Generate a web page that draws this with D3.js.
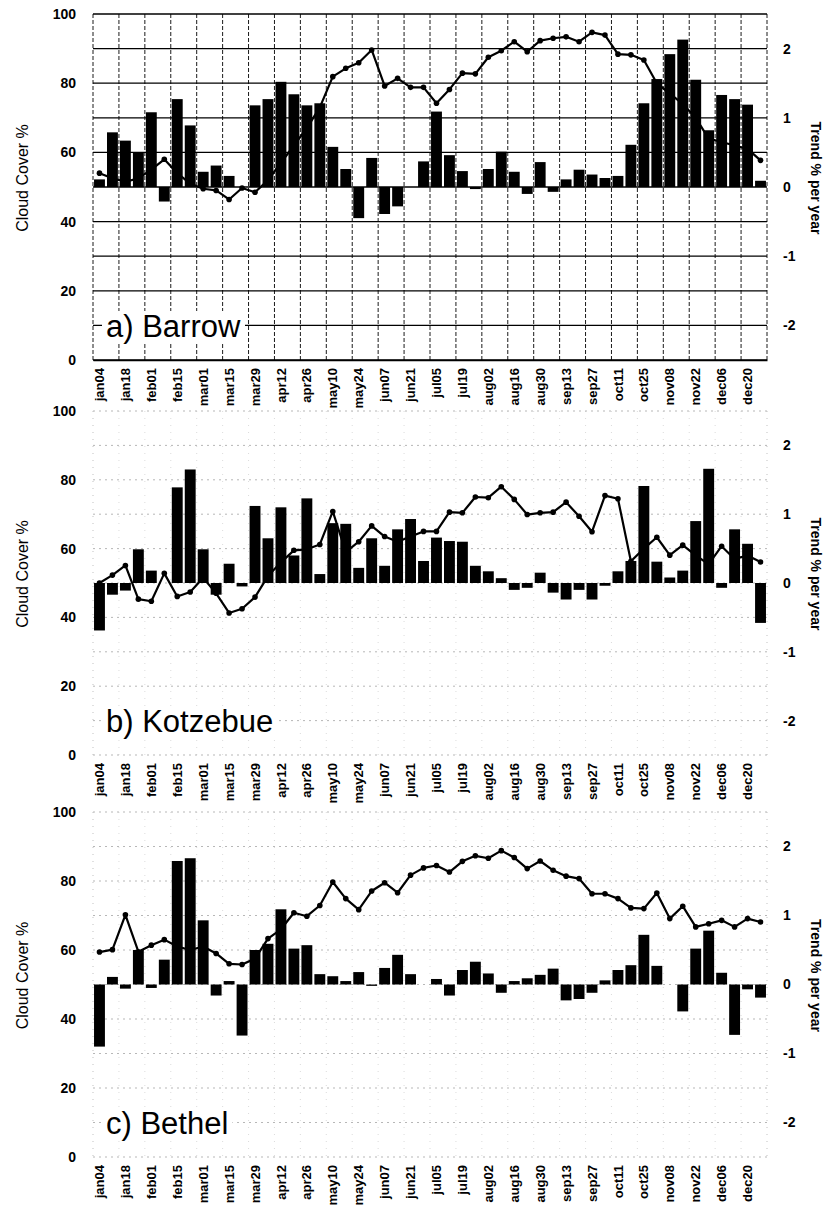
<!DOCTYPE html>
<html>
<head>
<meta charset="utf-8">
<script src="https://cdn.jsdelivr.net/npm/d3@7"></script>
<style>
  html, body { margin: 0; padding: 0; background: #fff; }
  svg { display: block; font-family: Arial, "Liberation Sans", sans-serif; }
</style>
</head>
<body>
<svg id="chart" width="828" height="1210"></svg>
<script>
// Weekly categories (start date of each week)
const weeks = ["jan04","jan11","jan18","jan25","feb01","feb08","feb15","feb22",
  "mar01","mar08","mar15","mar22","mar29","apr05","apr12","apr19","apr26",
  "may03","may10","may17","may24","may31","jun07","jun14","jun21","jun28",
  "jul05","jul12","jul19","jul26","aug02","aug09","aug16","aug23","aug30",
  "sep06","sep13","sep20","sep27","oct04","oct11","oct18","oct25",
  "nov01","nov08","nov15","nov22","nov29","dec06","dec13","dec20","dec27"];

const leftTicks = [0, 20, 40, 60, 80, 100];
const rightTicks = [-2, -1, 0, 1, 2];

// Barrow: mean cloud cover (%) and trend (% per year)
const barrowCloud = [54.0,52.5,51.5,52.5,55.0,58.0,54.0,51.0,49.5,49.0,46.4,49.7,48.5,
  52.0,57.0,62.0,67.0,73.0,81.9,84.3,85.9,89.6,79.2,81.4,78.8,78.8,74.2,78.2,82.9,
  82.7,87.5,89.4,92.0,89.1,92.3,93.0,93.4,92.0,94.7,93.9,88.4,88.2,86.7,80.0,77.0,
  74.0,70.0,64.0,63.0,62.0,61.0,57.7];
const barrowTrend = [0.11,0.79,0.67,0.50,1.08,-0.21,1.27,0.89,0.22,0.31,0.16,0.00,1.18,
  1.27,1.52,1.34,1.18,1.21,0.58,0.26,-0.45,0.42,-0.39,-0.28,0.00,0.37,1.09,0.46,0.23,
  -0.03,0.26,0.51,0.22,-0.10,0.36,-0.07,0.11,0.25,0.18,0.13,0.16,0.61,1.21,1.56,1.92,
  2.13,1.55,0.82,1.33,1.27,1.19,0.09];

// Kotzebue
const kotzCloud = [50.0,52.3,55.1,45.3,44.7,52.8,46.1,47.4,51.5,47.0,41.3,42.5,45.9,
  52.0,56.0,59.5,59.8,61.2,70.8,59.0,62.0,66.6,63.5,62.0,63.5,65.0,65.0,70.6,70.4,
  75.0,74.8,78.0,74.3,69.9,70.4,70.6,73.5,69.4,64.9,75.4,74.5,56.3,60.0,63.3,58.1,
  61.0,58.0,55.5,60.7,57.0,58.0,56.1];
const kotzTrend = [-0.69,-0.17,-0.11,0.49,0.18,0.00,1.39,1.65,0.49,-0.17,0.28,-0.05,1.12,
  0.65,1.10,0.40,1.23,0.13,0.87,0.86,0.22,0.65,0.25,0.78,0.93,0.32,0.66,0.61,0.60,
  0.25,0.17,0.07,-0.10,-0.07,0.15,-0.14,-0.24,-0.10,-0.24,-0.04,0.17,0.32,1.41,0.31,
  0.08,0.18,0.90,1.66,-0.07,0.78,0.57,-0.58];

// Bethel
const bethelCloud = [59.4,60.1,70.2,59.5,61.4,63.0,61.0,60.0,61.0,59.0,56.0,55.8,57.5,
  63.3,66.0,70.8,69.8,72.9,79.7,74.9,71.7,77.1,79.5,76.6,81.7,83.8,84.5,82.6,85.7,
  87.3,86.6,88.8,86.8,83.6,85.8,83.1,81.4,80.7,76.3,76.3,74.9,72.2,72.0,76.5,69.1,
  72.7,66.7,67.6,68.6,66.7,69.1,68.1];
const bethelTrend = [-0.90,0.11,-0.06,0.50,-0.05,0.36,1.79,1.83,0.93,-0.16,0.05,-0.74,0.50,
  0.59,1.09,0.52,0.57,0.15,0.12,0.05,0.18,-0.02,0.24,0.43,0.15,0.00,0.08,-0.16,0.21,
  0.33,0.16,-0.12,0.05,0.09,0.14,0.23,-0.23,-0.21,-0.12,0.06,0.21,0.28,0.72,0.27,
  0.00,-0.39,0.52,0.78,0.17,-0.73,-0.07,-0.19];

const panels = [
  { title: "a) Barrow",   cloud: barrowCloud, trend: barrowTrend, top: 14,  bottom: 360,  style: "solid" },
  { title: "b) Kotzebue", cloud: kotzCloud,   trend: kotzTrend,   top: 411, bottom: 755,  style: "faint" },
  { title: "c) Bethel",   cloud: bethelCloud, trend: bethelTrend, top: 812, bottom: 1157, style: "faint" }
];

const svg = d3.select("#chart");
const xLeft = 93, xRight = 767;

const x = d3.scaleBand().domain(weeks).range([xLeft, xRight])
  .paddingInner(0.16).paddingOuter(0.08);
const step = x.step();
const cx = d => x(d) + x.bandwidth() / 2;

panels.forEach(p => {
  const g = svg.append("g");
  const yL = d3.scaleLinear().domain([0, 100]).range([p.bottom, p.top]);
  const yR = d3.scaleLinear().domain([-2.5, 2.5]).range([p.bottom, p.top]);

  // grid
  const grid = g.append("g");
  const hVals = d3.range(0, 101, 10);
  const vIdx = d3.range(0, weeks.length + 1, 2);
  const vx = k => xLeft + step * k;
  if (p.style === "solid") {
    grid.selectAll("line.h").data(hVals).join("line")
      .attr("x1", xLeft).attr("x2", xRight)
      .attr("y1", d => yL(d)).attr("y2", d => yL(d))
      .attr("stroke", "#000").attr("stroke-width", 1.3);
    grid.selectAll("line.v").data(vIdx).join("line")
      .attr("x1", vx).attr("x2", vx)
      .attr("y1", p.top).attr("y2", p.bottom)
      .attr("stroke", "#000").attr("stroke-width", 0.9)
      .attr("stroke-dasharray", "4,2");
  } else {
    grid.selectAll("line.h").data(hVals).join("line")
      .attr("x1", xLeft).attr("x2", xRight)
      .attr("y1", d => yL(d)).attr("y2", d => yL(d))
      .attr("stroke", "#999").attr("stroke-width", 1)
      .attr("stroke-dasharray", "2,4").attr("opacity", 0.7);
    grid.selectAll("line.v").data(vIdx).join("line")
      .attr("x1", vx).attr("x2", vx)
      .attr("y1", p.top).attr("y2", p.bottom)
      .attr("stroke", "#bbb").attr("stroke-width", 1)
      .attr("stroke-dasharray", "1,6")
      .attr("opacity", d => (d === 0 || d === weeks.length) ? 0.9 : 0.5);
  }

  // cloud cover line (left axis)
  const line = d3.line().x((d, i) => cx(weeks[i])).y(d => yL(d));
  g.append("path").datum(p.cloud)
    .attr("d", line).attr("fill", "none")
    .attr("stroke", "#000").attr("stroke-width", 2.2)
    .attr("stroke-linejoin", "round");
  g.append("g").selectAll("circle").data(p.cloud).join("circle")
    .attr("cx", (d, i) => cx(weeks[i])).attr("cy", d => yL(d))
    .attr("r", 2.8).attr("fill", "#000");

  // trend bars (right axis), from zero
  g.append("g").selectAll("rect").data(weeks).join("rect")
    .attr("x", d => x(d))
    .attr("width", x.bandwidth())
    .attr("y", (d, i) => yR(Math.max(0, p.trend[i])))
    .attr("height", (d, i) => Math.abs(yR(p.trend[i]) - yR(0)))
    .attr("fill", "#000");

  // left axis
  const axL = g.append("g").attr("transform", `translate(${xLeft - 14},0)`)
    .call(d3.axisLeft(yL).tickValues(leftTicks).tickSize(0).tickFormat(d => String(d)));
  axL.select(".domain").remove();
  axL.selectAll("text").attr("font-size", 14).attr("font-weight", "bold")
    .attr("font-family", "Arial, 'Liberation Sans', sans-serif").attr("fill", "#000");

  // right axis
  const axR = g.append("g").attr("transform", `translate(${xRight + 16},0)`)
    .call(d3.axisRight(yR).tickValues(rightTicks).tickSize(0).tickFormat(d => String(d)));
  axR.select(".domain").remove();
  axR.selectAll("text").attr("font-size", 14).attr("font-weight", "bold")
    .attr("x", 0)
    .attr("font-family", "Arial, 'Liberation Sans', sans-serif").attr("fill", "#000");

  // bottom category axis
  const axB = g.append("g").attr("transform", `translate(0,${p.bottom})`)
    .call(d3.axisBottom(x).tickValues(weeks.filter((d, i) => i % 2 === 0)).tickSize(0));
  axB.select(".domain").attr("stroke", p.style === "solid" ? "#000" : "none")
    .attr("stroke-width", 1.3);
  axB.selectAll("text")
    .attr("font-size", 13).attr("font-weight", "bold")
    .attr("font-family", "Arial, 'Liberation Sans', sans-serif").attr("fill", "#000")
    .attr("text-anchor", "end")
    .attr("transform", "rotate(-90)")
    .attr("x", -8).attr("y", 0).attr("dy", "0.35em");

  // axis titles
  const cy = (p.top + p.bottom) / 2 - 9;
  g.append("text")
    .attr("transform", `translate(28,${cy}) rotate(-90)`)
    .attr("text-anchor", "middle").attr("font-size", 16)
    .text("Cloud Cover %");
  g.append("text")
    .attr("transform", `translate(811,${cy}) rotate(90)`)
    .attr("text-anchor", "middle").attr("font-size", 14).attr("font-weight", "bold")
    .text("Trend % per year");

  // panel label on a white box
  const lbl = g.append("g");
  const t = lbl.append("text")
    .attr("x", 106).attr("y", p.bottom - 23)
    .attr("font-size", 31).attr("fill", "#000")
    .text(p.title);
  const bb = t.node().getBBox();
  lbl.insert("rect", "text")
    .attr("x", bb.x - 4).attr("y", bb.y + 2)
    .attr("width", bb.width + 8).attr("height", bb.height - 4)
    .attr("fill", "#fff");
});
</script>
</body>
</html>
